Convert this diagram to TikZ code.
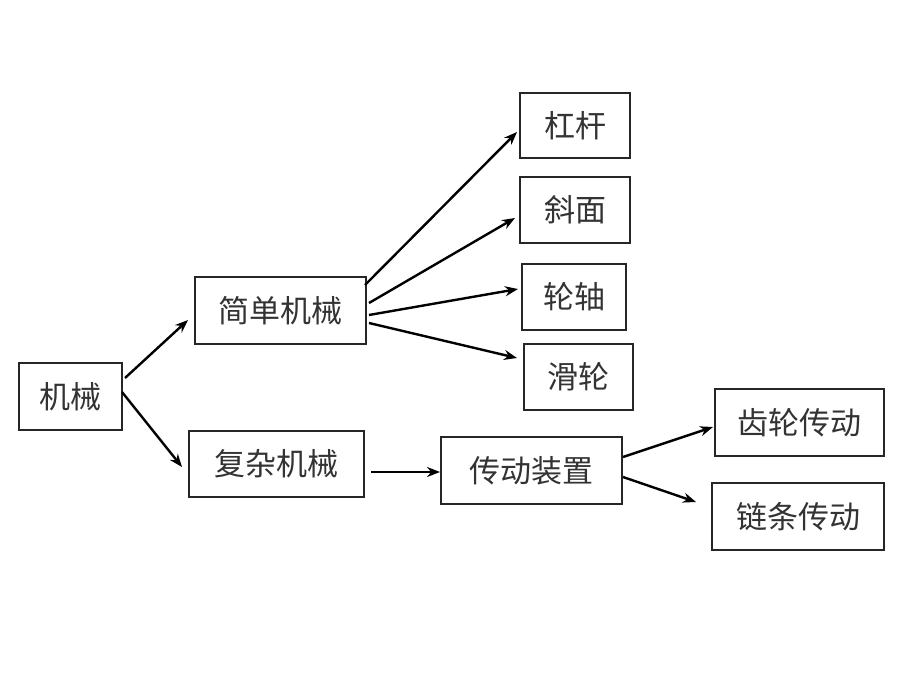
\documentclass[tikz,border=0pt]{standalone}
\usepackage{fontspec}
\newfontfamily\cjk{Noto Sans CJK SC}
\usetikzlibrary{arrows.meta,calc}
\begin{document}
\begin{tikzpicture}[x=1pt,y=-1pt,
  box/.style={draw=black!85,line width=2pt,inner sep=0pt,outer sep=0pt,
    font=\cjk\fontsize{31}{34}\selectfont,text=black!80},
  arr/.style={draw=black,line width=2.4pt,-{Stealth[length=13pt,width=10pt]}}]
\useasboundingbox[fill=white] (0,0) rectangle (920,690);
\node[box,minimum width=103pt,minimum height=67pt] (jx) at (70.5,396.5) {机械};
\node[box,minimum width=171pt,minimum height=67pt] (jd) at (280.5,310.5) {简单机械};
\node[box,minimum width=175pt,minimum height=66pt] (fz) at (276.5,464) {复杂机械};
\node[box,minimum width=110pt,minimum height=65pt] (gg) at (575,125.5) {杠杆};
\node[box,minimum width=110pt,minimum height=66pt] (xm) at (575,210) {斜面};
\node[box,minimum width=104pt,minimum height=66pt] (lz) at (574,297) {轮轴};
\node[box,minimum width=109pt,minimum height=66pt] (hl) at (578.5,377) {滑轮};
\node[box,minimum width=181pt,minimum height=67pt] (cd) at (531.5,470.5) {传动装置};
\node[box,minimum width=169pt,minimum height=67pt] (cl) at (799.5,422.5) {齿轮传动};
\node[box,minimum width=172pt,minimum height=67pt] (ll) at (798,516.5) {链条传动};
\draw[arr] ($(jx.east)+(3,-18.5)$) -- ($(jd.west)+(-7,9.5)$);
\draw[arr] ($(jx.east)+(0,-4.5)$) -- ($(fz.west)+(-7,3)$);
\draw[arr] ($(jd.east)+(-1,-25.5)$) -- ($(gg.west)+(-3,6.5)$);
\draw[arr] ($(jd.east)+(3,-7.5)$) -- ($(xm.west)+(-5,8)$);
\draw[arr] ($(jd.east)+(3,4.5)$) -- ($(lz.west)+(-4,-8)$);
\draw[arr] ($(jd.east)+(3,12.5)$) -- ($(hl.west)+(-7,-19)$);
\draw[arr] ($(fz.east)+(7,8)$) -- ($(cd.west)+(-1,1.5)$);
\draw[arr] ($(cd.east)+(1,-13.5)$) -- ($(cl.west)+(-2,4.5)$);
\draw[arr] ($(cd.east)+(1,6.5)$) -- ($(ll.west)+(-16,-14.5)$);
\end{tikzpicture}
\end{document}
